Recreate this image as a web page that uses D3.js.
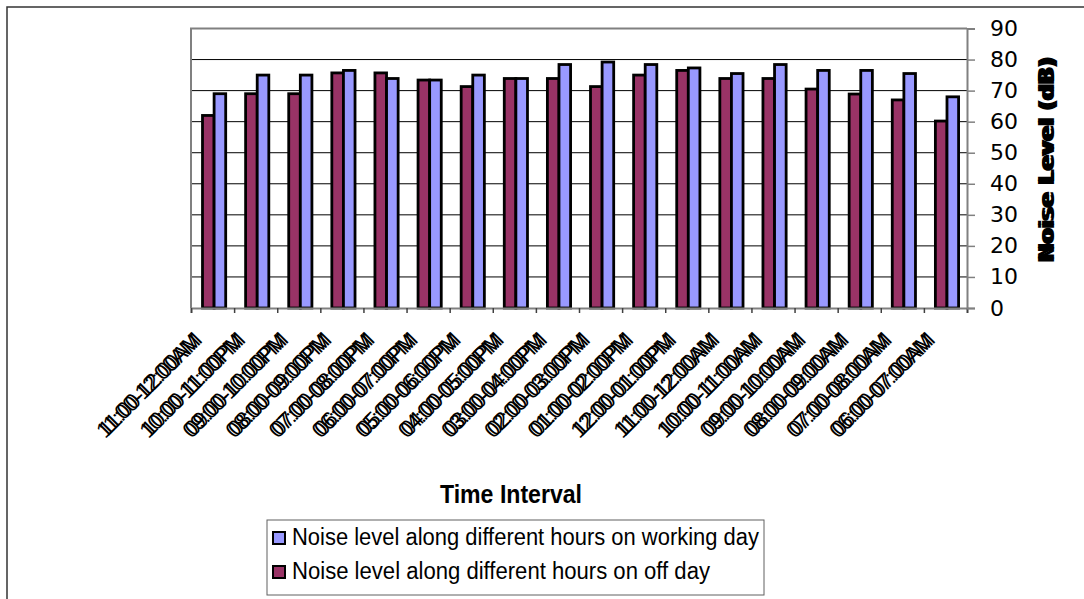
<!DOCTYPE html>
<html>
<head>
<meta charset="utf-8">
<script src="https://cdn.jsdelivr.net/npm/d3@7/dist/d3.min.js"></script>
<style>
  html, body { margin: 0; padding: 0; background: #fff; }
  svg { display: block; }
</style>
</head>
<body>
<svg id="chart" width="1084" height="599"></svg>
<script>
// Time intervals, read right to left of the day as in the original sheet
const categories = [
  "11:00-12:00AM", "10:00-11:00PM", "09:00-10:00PM", "08:00-09:00PM",
  "07:00-08:00PM", "06:00-07:00PM", "05:00-06:00PM", "04:00-05:00PM",
  "03:00-04:00PM", "02:00-03:00PM", "01:00-02:00PM", "12:00-01:00PM",
  "11:00-12:00AM", "10:00-11:00AM", "09:00-10:00AM", "08:00-09:00AM",
  "07:00-08:00AM", "06:00-07:00AM"
];

// Noise levels (dB)
const offDay = [62, 69, 69, 75.7, 75.7, 73.4, 71.3, 73.9, 73.9, 71.3, 75, 76.5, 73.9, 73.9, 70.5, 68.9, 67, 60.2];
const workingDay = [69, 75, 75, 76.5, 73.9, 73.4, 75, 73.9, 78.4, 79.2, 78.4, 77.3, 75.5, 78.4, 76.5, 76.5, 75.5, 68];

const yTicks = [0, 10, 20, 30, 40, 50, 60, 70, 80, 90];

const seriesNames = [
  "Noise level along different hours on working day",
  "Noise level along different hours on off day"
];
const seriesColors = ["#9999FF", "#993366"];

const svg = d3.select("#chart");

// plot area box
const plot = { left: 191, right: 967, top: 28.5, bottom: 308 };

// outer chart frame
svg.append("rect")
  .attr("x", 7).attr("y", 7)
  .attr("width", 1100).attr("height", 620)
  .attr("fill", "none")
  .attr("stroke", "#333")
  .attr("stroke-width", 1.5);

const x = d3.scaleBand()
  .domain(d3.range(categories.length))
  .range([plot.left, plot.right])
  .padding(0);

// off day first (left), working day second (right) inside each group
const xInner = d3.scaleBand()
  .domain(["off", "work"])
  .range([11.5, 34.7]);

const xEdges = d3.scaleLinear()
  .domain([0, categories.length])
  .range([plot.left, plot.right]);

const y = d3.scaleLinear()
  .domain([0, 90])
  .range([plot.bottom, plot.top]);

// gridlines
svg.append("g")
  .selectAll("line")
  .data(yTicks.filter(d => d > 0 && d < 90))
  .join("line")
  .attr("x1", plot.left).attr("x2", plot.right)
  .attr("y1", d => y(d)).attr("y2", d => y(d))
  .attr("stroke", "#000")
  .attr("stroke-width", 1);

// plot border (top and left in grey)
svg.append("path")
  .attr("d", `M${plot.left},${plot.bottom}V${plot.top}H${plot.right}`)
  .attr("fill", "none")
  .attr("stroke", "#808080")
  .attr("stroke-width", 2);

// bars
const groups = svg.append("g")
  .selectAll("g")
  .data(categories.map((c, i) => ({ i, off: offDay[i], work: workingDay[i] })))
  .join("g")
  .attr("transform", d => `translate(${x(d.i)},0)`);

groups.selectAll("rect")
  .data(d => [
    { key: "off", value: d.off, color: seriesColors[1] },
    { key: "work", value: d.work, color: seriesColors[0] }
  ])
  .join("rect")
  .attr("x", d => xInner(d.key))
  .attr("width", xInner.bandwidth())
  .attr("y", d => y(d.value))
  .attr("height", d => y(0) - y(d.value))
  .attr("fill", d => d.color)
  .attr("stroke", "#000")
  .attr("stroke-width", 2.8);

// x axis: ticks at category boundaries
const xAxis = d3.axisBottom(xEdges)
  .tickValues(d3.range(categories.length + 1))
  .tickSize(5)
  .tickFormat("");

svg.append("g")
  .attr("class", "x axis")
  .attr("transform", `translate(0,${plot.bottom})`)
  .call(xAxis);

svg.selectAll(".x.axis .domain").attr("stroke", "#808080").attr("stroke-width", 2);
svg.selectAll(".x.axis .tick line").attr("stroke", "#404040").attr("stroke-width", 1.5);

// rotated category labels, drawn twice like the ghosted original
const labels = svg.append("g").attr("class", "x labels");
[0, 3].forEach(shift => {
  labels.append("g")
    .selectAll("text")
    .data(categories)
    .join("text")
    .attr("transform", (d, i) => `translate(${x(i) + x.bandwidth() / 2 - 9},341) rotate(-45)`)
    .attr("dx", -shift)
    .attr("text-anchor", "end")
    .attr("font-family", "Liberation Sans, Arial, sans-serif")
    .attr("font-size", 22)
    .attr("textLength", 136)
    .attr("lengthAdjust", "spacing")
    .attr("fill", "#000")
    .text(d => d);
});

// y axis on the right
const yAxis = d3.axisRight(y)
  .tickValues(yTicks)
  .tickSize(8)
  .tickPadding(15);

svg.append("g")
  .attr("class", "y axis")
  .attr("transform", `translate(${plot.right},0)`)
  .call(yAxis);

svg.selectAll(".y.axis .domain").attr("stroke", "#808080").attr("stroke-width", 2);
svg.selectAll(".y.axis .tick line").attr("stroke", "#808080").attr("stroke-width", 1.5);
svg.selectAll(".y.axis .tick text")
  .attr("font-family", "DejaVu Sans, sans-serif")
  .attr("font-size", 22)
  .attr("fill", "#000");

// y axis title, ghosted
[0, 3].forEach(shift => {
  svg.append("text")
    .attr("transform", "translate(1054,161) rotate(-90)")
    .attr("dx", shift)
    .attr("text-anchor", "middle")
    .attr("font-family", "DejaVu Sans, sans-serif")
    .attr("font-weight", "bold")
    .attr("font-size", 21)
    .attr("textLength", 205)
    .attr("lengthAdjust", "spacingAndGlyphs")
    .attr("fill", "#000")
    .text("Noise Level (dB)");
});

// x axis title
svg.append("text")
  .attr("x", 511).attr("y", 503)
  .attr("text-anchor", "middle")
  .attr("font-family", "Liberation Sans, Arial, sans-serif")
  .attr("font-weight", "bold")
  .attr("font-size", 25)
  .attr("textLength", 142)
  .attr("lengthAdjust", "spacingAndGlyphs")
  .attr("fill", "#000")
  .text("Time Interval");

// legend
const legend = svg.append("g").attr("class", "legend");
legend.append("rect")
  .attr("x", 267).attr("y", 520)
  .attr("width", 497).attr("height", 75)
  .attr("fill", "#fff")
  .attr("stroke", "#606060")
  .attr("stroke-width", 1);

const legendWidths = [467, 418];
const items = legend.selectAll("g.item")
  .data(seriesNames)
  .join("g")
  .attr("class", "item")
  .attr("transform", (d, i) => `translate(0,${545 + i * 34})`);

items.append("rect")
  .attr("x", 273).attr("y", -13)
  .attr("width", 12).attr("height", 12)
  .attr("fill", (d, i) => seriesColors[i])
  .attr("stroke", "#000")
  .attr("stroke-width", 2);

items.append("text")
  .attr("x", 292).attr("y", 0)
  .attr("font-family", "Liberation Sans, Arial, sans-serif")
  .attr("font-size", 23)
  .attr("textLength", (d, i) => legendWidths[i])
  .attr("lengthAdjust", "spacingAndGlyphs")
  .attr("fill", "#000")
  .text(d => d);
</script>
</body>
</html>
